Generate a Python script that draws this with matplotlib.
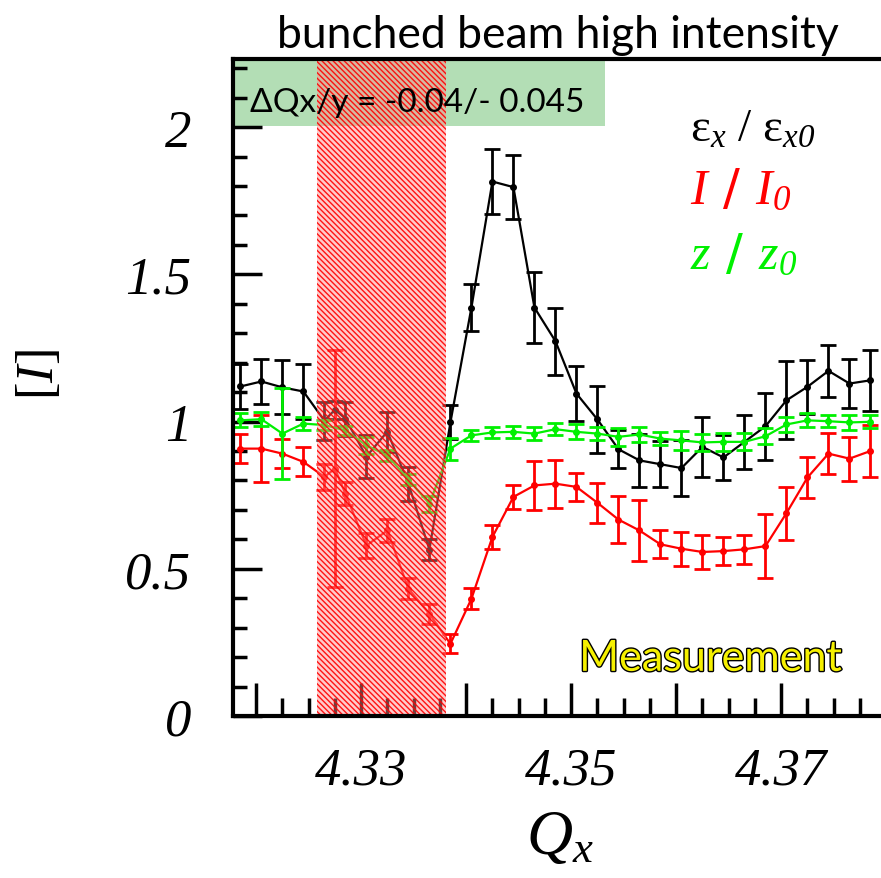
import matplotlib
matplotlib.use("Agg")
import matplotlib.pyplot as plt
import matplotlib.patheffects as pe
from matplotlib.ticker import FixedLocator, MultipleLocator, FixedFormatter

plt.rcParams["mathtext.fontset"] = "custom"
plt.rcParams["mathtext.it"] = "Liberation Serif:italic"
plt.rcParams["mathtext.rm"] = "Liberation Serif:italic"
plt.rcParams["hatch.linewidth"] = 1.0

# tune values, emittance and intensity have one extra point at 4.3275
qx_ei = [4.3185, 4.3205, 4.3225, 4.3245, 4.3265, 4.3275, 4.3285, 4.3305, 4.3325, 4.3345,
         4.3365, 4.3385, 4.3405, 4.3425, 4.3445, 4.3465, 4.3485, 4.3505, 4.3525, 4.3545,
         4.3565, 4.3585, 4.3605, 4.3625, 4.3645, 4.3665, 4.3685, 4.3705, 4.3725, 4.3745,
         4.3765, 4.3785]
qx_z = [4.3185, 4.3205, 4.3225, 4.3245, 4.3265, 4.3285, 4.3305, 4.3325, 4.3345,
        4.3365, 4.3385, 4.3405, 4.3425, 4.3445, 4.3465, 4.3485, 4.3505, 4.3525, 4.3545,
        4.3565, 4.3585, 4.3605, 4.3625, 4.3645, 4.3665, 4.3685, 4.3705, 4.3725, 4.3745,
        4.3765, 4.3785]

eps = [1.119, 1.136, 1.116, 1.102, 1.003, 1.04, 1.010, 0.881, 0.966, 0.789, 0.565, 0.997,
       1.387, 1.815, 1.796, 1.387, 1.273, 1.095, 1.007, 0.906, 0.868, 0.855, 0.842, 0.914,
       0.878, 0.931, 0.984, 1.072, 1.118, 1.172, 1.129, 1.140]
eps_err = [0.077, 0.078, 0.092, 0.092, 0.065, 0.03, 0.058, 0.073, 0.068, 0.058, 0.036, 0.058,
           0.080, 0.111, 0.109, 0.122, 0.114, 0.094, 0.114, 0.064, 0.090, 0.078, 0.096, 0.102,
           0.075, 0.092, 0.113, 0.133, 0.092, 0.088, 0.082, 0.103]

inten = [0.908, 0.908, 0.891, 0.863, 0.812, 0.840, 0.755, 0.579, 0.630, 0.432, 0.347, 0.245,
         0.398, 0.608, 0.744, 0.783, 0.789, 0.778, 0.724, 0.667, 0.630, 0.583, 0.568, 0.557,
         0.560, 0.566, 0.577, 0.689, 0.810, 0.891, 0.874, 0.900]
inten_err = [0.048, 0.115, 0.05, 0.049, 0.045, 0.402, 0.04, 0.043, 0.039, 0.035, 0.034, 0.032,
             0.036, 0.040, 0.041, 0.082, 0.082, 0.048, 0.067, 0.081, 0.102, 0.047, 0.058, 0.057,
             0.047, 0.050, 0.109, 0.090, 0.069, 0.070, 0.075, 0.088]

zlen = [1.004, 1.008, 0.959, 0.993, 0.988, 0.970, 0.919, 0.885, 0.803, 0.721, 0.908, 0.953,
        0.963, 0.965, 0.959, 0.974, 0.965, 0.959, 0.948, 0.956, 0.942, 0.936, 0.929, 0.931,
        0.931, 0.950, 0.990, 1.004, 1.001, 0.997, 0.999]
zlen_err = [0.024, 0.023, 0.155, 0.023, 0.018, 0.016, 0.028, 0.02, 0.02, 0.027, 0.037, 0.019,
            0.019, 0.02, 0.023, 0.02, 0.025, 0.022, 0.031, 0.026, 0.023, 0.033, 0.029, 0.03,
            0.029, 0.027, 0.027, 0.024, 0.021, 0.026, 0.022]

xlim = (4.3178, 4.3795)
ylim = (0, 2.231)
stop_band = (4.3258, 4.3381)
box_end = 4.3532

fig = plt.figure(figsize=(8.81, 8.79), dpi=100)
ax = fig.add_axes([0.2645, 0.1843, 1 - 0.2645, 0.7474])
ax.set_xlim(*xlim)
ax.set_ylim(*ylim)

# green label box and red hatched band
ax.fill_between([xlim[0], box_end], 2.003, ylim[1], color="#b3deb5", lw=0, zorder=0.5)
ax.axvspan(*stop_band, facecolor=(1, 0.55, 0.55, 0.45), edgecolor=(1, 0, 0, 0.9),
           hatch="\\\\\\\\\\\\", lw=0, zorder=5)

style = dict(fmt="-o", ms=4, lw=1.6, elinewidth=2, capsize=6, capthick=2)
ax.errorbar(qx_ei, eps, yerr=eps_err, color="black", zorder=3, **style)
ax.errorbar(qx_ei, inten, yerr=inten_err, color="red", zorder=3, **style)
ax.errorbar(qx_z, zlen, yerr=zlen_err, color="#00f000", zorder=4, **style)

for s in ["left", "bottom", "top"]:
    ax.spines[s].set_linewidth(3)
    ax.spines[s].set_zorder(6)
ax.spines["right"].set_visible(False)

ax.xaxis.set_major_locator(FixedLocator([4.32, 4.33, 4.34, 4.35, 4.36, 4.37]))
ax.xaxis.set_major_formatter(FixedFormatter(["", "4.33", "", "4.35", "", "4.37"]))
ax.xaxis.set_minor_locator(MultipleLocator(0.0025))
ax.yaxis.set_major_locator(FixedLocator([0, 0.5, 1, 1.5, 2]))
ax.yaxis.set_major_formatter(FixedFormatter(["0", "0.5", "1", "1.5", "2"]))
ax.yaxis.set_minor_locator(MultipleLocator(0.1))
ax.tick_params(axis="x", which="major", direction="in", length=24, width=2.5, pad=22)
ax.tick_params(axis="x", which="minor", direction="in", length=13, width=2.5)
ax.tick_params(axis="y", which="major", direction="in", length=21, width=2.5, pad=30)
ax.tick_params(axis="y", which="minor", direction="in", length=10, width=2.5)
ax.tick_params(top=False, right=False, which="both")
for lab in ax.get_xticklabels() + ax.get_yticklabels():
    lab.set_fontfamily("Liberation Serif")
    lab.set_fontstyle("italic")
    lab.set_fontsize(38)

fig.text(40 / 881, 1 - 375 / 879, "[$I$]", rotation=90, ha="center", va="center",
         fontsize=38, family="Liberation Serif")
fig.text(560 / 881, 1 - 836 / 879, "$Q_x$", ha="center", va="center", fontsize=46)
fig.text(558 / 881, 1 - 35 / 879, "bunched beam high intensity", ha="center", va="center",
         fontsize=32, family="Lato")

ax.text(0.026, 0.934, "ΔQx/y = -0.04/- 0.045", transform=ax.transAxes, ha="left",
        va="center", fontsize=24, family="Lato", zorder=7)

ax.text(0.705, 0.893, "ε$_x$ / ε$_{x0}$", transform=ax.transAxes, ha="left", va="center",
        fontsize=34, family="Liberation Serif", color="black", zorder=7)
ax.text(0.705, 0.802, "$I$ / $I_0$", transform=ax.transAxes, ha="left", va="center",
        fontsize=36, color="red", zorder=7)
ax.text(0.705, 0.703, "$z$ / $z_0$", transform=ax.transAxes, ha="left", va="center",
        fontsize=36, color="#00f000", zorder=7)

ax.text(0.736, 0.087, "Measurement", transform=ax.transAxes, ha="center", va="center",
        fontsize=31, family="Lato", color="#f5f000", zorder=7,
        path_effects=[pe.withStroke(linewidth=2, foreground="black")])

fig.savefig("out.png", dpi=100)
